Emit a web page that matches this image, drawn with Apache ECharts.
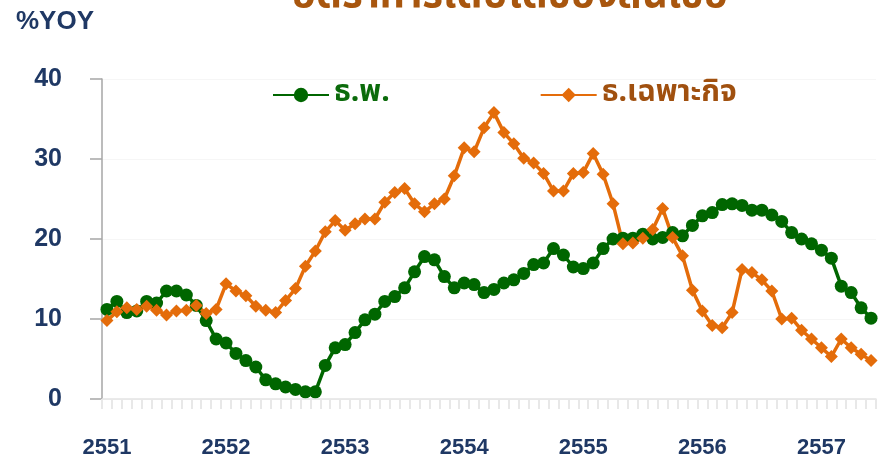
<!DOCTYPE html>
<html>
<head>
<meta charset="utf-8">
<script src="https://cdn.jsdelivr.net/npm/echarts@6/dist/echarts.min.js"></script>
<style>
  html, body { margin: 0; padding: 0; background: #fff; }
  #main { width: 885px; height: 459px; }
</style>
</head>
<body>
<div id="main"></div>
<script>
// ปี พ.ศ. ที่ใช้เป็นป้ายแกน x (ข้อมูลรายเดือน ม.ค. 2551 - มิ.ย. 2557)
var years = ['2551', '2552', '2553', '2554', '2555', '2556', '2557'];
var months = ['01', '02', '03', '04', '05', '06', '07', '08', '09', '10', '11', '12'];

// ธ.พ. (%YOY)
var commercialBanks = [
  11.2, 12.2, 10.8, 11.0, 12.2, 12.0, 13.5, 13.5, 13.0, 11.7, 9.8, 7.5,
  7.0, 5.7, 4.8, 4.0, 2.4, 1.9, 1.5, 1.2, 0.9, 0.9, 4.2, 6.4,
  6.8, 8.3, 9.9, 10.6, 12.2, 12.8, 13.9, 15.9, 17.8, 17.4, 15.3, 13.9,
  14.5, 14.3, 13.3, 13.7, 14.5, 14.9, 15.7, 16.8, 17.0, 18.8, 18.0, 16.5,
  16.3, 17.0, 18.8, 20.0, 20.1, 20.1, 20.6, 20.0, 20.2, 20.8, 20.4, 21.7,
  22.9, 23.3, 24.3, 24.4, 24.2, 23.6, 23.6, 23.0, 22.2, 20.8, 20.0, 19.4,
  18.6, 17.6, 14.1, 13.3, 11.4, 10.1
];

// ธ.เฉพาะกิจ (%YOY)
var specializedBanks = [
  9.8, 10.9, 11.4, 11.2, 11.6, 11.1, 10.5, 11.0, 11.1, 11.7, 10.7, 11.2,
  14.4, 13.5, 12.9, 11.6, 11.1, 10.8, 12.3, 13.8, 16.6, 18.5, 20.9, 22.3,
  21.1, 21.9, 22.5, 22.5, 24.6, 25.8, 26.3, 24.4, 23.4, 24.4, 25.0, 27.9,
  31.4, 30.9, 33.9, 35.8, 33.3, 31.9, 30.1, 29.5, 28.2, 26.0, 26.0, 28.2,
  28.3, 30.7, 28.1, 24.4, 19.4, 19.5, 20.1, 21.2, 23.8, 20.2, 17.9, 13.6,
  11.0, 9.2, 8.9, 10.8, 16.2, 15.8, 14.9, 13.5, 10.0, 10.1, 8.6, 7.5,
  6.4, 5.3, 7.5, 6.4, 5.6, 4.8
];

var categories = [];
years.forEach(function (y) {
  months.forEach(function (m) {
    if (categories.length < commercialBanks.length) categories.push(y + '-' + m);
  });
});

var navy = '#1F3864';
var thaiFont = '"Noto Sans Thai", "Noto Sans Thai Looped", Loma, Garuda, "Tlwg Typo", "DejaVu Sans", sans-serif';

var chart = echarts.init(document.getElementById('main'));
var option = {
  backgroundColor: '#ffffff',
  animation: false,
  graphic: [
    {
      // ชื่อกราฟถูกตัดขอบบนในภาพต้นฉบับ
      type: 'text',
      x: 292,
      y: -21,
      z: 100,
      style: {
        text: 'อัตราการเติบโตของสินเชื่อ',
        fill: '#A8560E',
        font: 'bold 40px ' + thaiFont
      }
    },
    {
      type: 'text',
      left: 16,
      top: 9,
      style: { text: '%YOY', fill: navy, font: 'bold 26px "Liberation Sans", Arial, sans-serif' }
    }
  ],
  legend: {
    left: 267,
    top: 75,
    itemGap: 150,
    itemWidth: 56,
    itemHeight: 18,
    data: [
      { name: 'ธ.พ.', textStyle: { color: '#0B6B0B' } },
      { name: 'ธ.เฉพาะกิจ', textStyle: { color: '#A0500F' } }
    ],
    textStyle: { fontSize: 30, fontWeight: 'bold', fontFamily: thaiFont }
  },
  grid: { left: 102, right: 9, top: 79, bottom: 57 },
  xAxis: {
    type: 'category',
    data: categories,
    boundaryGap: true,
    axisLine: { lineStyle: { color: '#e4e4e4', width: 1.5 } },
    axisTick: { show: true, interval: 0, length: 10, lineStyle: { color: '#e8e8e8', width: 2 } },
    axisLabel: {
      interval: 11,
      margin: 38,
      color: navy,
      fontSize: 22,
      fontWeight: 'bold',
      fontFamily: '"Liberation Sans", Arial, sans-serif',
      formatter: function (v) { return v.split('-')[0]; }
    },
    splitLine: { show: false }
  },
  yAxis: {
    type: 'value',
    min: 0,
    max: 40,
    interval: 10,
    axisLine: { show: true, lineStyle: { color: '#a6a6a6', width: 1.5 } },
    axisTick: { show: true, length: 12, lineStyle: { color: '#a6a6a6', width: 1.5 } },
    axisLabel: {
      margin: 40,
      color: navy,
      fontSize: 25,
      fontWeight: 'bold',
      fontFamily: '"Liberation Sans", Arial, sans-serif'
    },
    splitLine: { lineStyle: { color: '#f6f6f6' } }
  },
  series: [
    {
      name: 'ธ.พ.',
      type: 'line',
      data: commercialBanks,
      symbol: 'circle',
      symbolSize: 13,
      showAllSymbol: true,
      lineStyle: { color: '#006600', width: 3.5 },
      itemStyle: { color: '#006600' }
    },
    {
      name: 'ธ.เฉพาะกิจ',
      type: 'line',
      data: specializedBanks,
      symbol: 'diamond',
      symbolSize: 13,
      showAllSymbol: true,
      lineStyle: { color: '#E46C0A', width: 3.5 },
      itemStyle: { color: '#E46C0A' }
    }
  ]
};
chart.setOption(option);
</script>
</body>
</html>
